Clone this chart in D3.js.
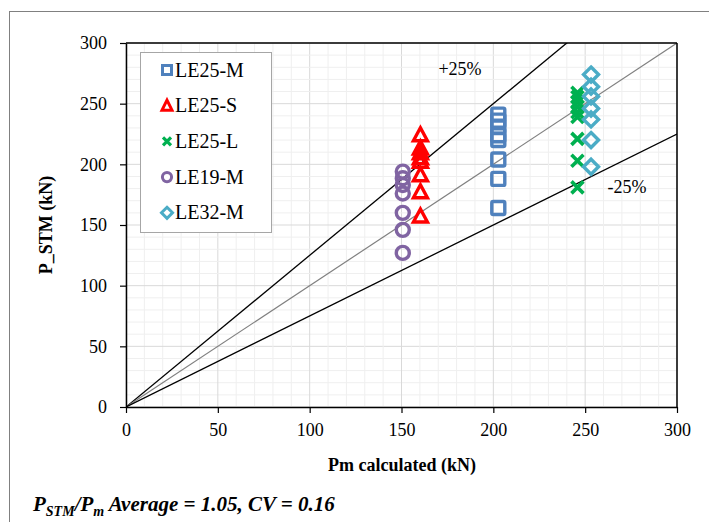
<!DOCTYPE html>
<html><head><meta charset="utf-8">
<script src="https://cdn.jsdelivr.net/npm/d3@7"></script>
<style>body{margin:0;background:#fff}svg{display:block}</style>
</head><body>
<svg id="c" width="709" height="522"></svg>
<script>
const seriesNames = ["LE25-M","LE25-S","LE25-L","LE19-M","LE32-M"];
const seriesColors = ["#4F81BD","#FF0000","#00B050","#8064A2","#4BACC6"];
const seriesShapes = ["square","triangle","cross","circle","diamond"];
const xLE25M = [202.7,202.7,202.7,202.7,202.7,202.7,202.7,202.7];
const yLE25M = [241,236,231,224,220,204,188,164];
const xLE25S = [160.3,160.3,160.3,160.3,160.3,160.3,160.3,160.3];
const yLE25S = [224,213,209,205,202,191,177,157];
const xLE25L = [245.8,245.8,245.8,245.8,245.8,245.8,245.8,245.8,245.8];
const yLE25L = [259,255.5,251.5,247.5,243,239,221,203,181];
const xLE19M = [150.7,150.7,150.7,150.7,150.7,150.7,150.7];
const yLE19M = [194,188.5,183,176,160,146,127];
const xLE32M = [253.2,253.2,253.2,253.2,253.2,253.2,253.2];
const yLE32M = [274,264,256,246,237,220,198];
const xTicks = [0,50,100,150,200,250,300];
const yTicks = [0,50,100,150,200,250,300];
const refLines = [{k:1.25,color:"#000",w:1.3},{k:1.0,color:"#808080",w:1.2},{k:0.75,color:"#000",w:1.3}];

const FONT="Liberation Serif";
const xs=[xLE25M,xLE25S,xLE25L,xLE19M,xLE32M], ys=[yLE25M,yLE25S,yLE25L,yLE19M,yLE32M];
const svg=d3.select("#c");
const L=126,R=677,T=43,B=407;
const x=d3.scaleLinear().domain([0,300]).range([L,R]);
const y=d3.scaleLinear().domain([0,300]).range([B,T]);

svg.append("rect").attr("x",9.5).attr("y",11.5).attr("width",720).attr("height",530).attr("fill","none").attr("stroke","#808080").attr("stroke-width",1);

const minor=d3.range(0,301,10);
const g=svg.append("g");
minor.forEach(v=>{
  const major=v%50===0;
  g.append("line").attr("x1",x(v)).attr("x2",x(v)).attr("y1",T).attr("y2",B).attr("stroke",major?"#d9d9d9":"#efefef").attr("stroke-width",1);
  g.append("line").attr("y1",y(v)).attr("y2",y(v)).attr("x1",L).attr("x2",R).attr("stroke",major?"#d9d9d9":"#efefef").attr("stroke-width",1);
});

svg.append("clipPath").attr("id","cp").append("rect").attr("x",L).attr("y",T).attr("width",R-L).attr("height",B-T);
const rl=svg.append("g").attr("clip-path","url(#cp)");
refLines.forEach(r=>{
  rl.append("line").attr("x1",x(0)).attr("y1",y(0)).attr("x2",x(300)).attr("y2",y(300*r.k)).attr("stroke",r.color).attr("stroke-width",r.w);
});

const xa=svg.append("g").attr("transform",`translate(0,${B})`).call(d3.axisBottom(x).tickValues(xTicks).tickSize(6).tickPadding(6).tickSizeOuter(0));
const ya=svg.append("g").attr("transform",`translate(${L},0)`).call(d3.axisLeft(y).tickValues(yTicks).tickSize(6).tickPadding(13).tickSizeOuter(0));
[xa,ya].forEach(a=>{a.attr("font-family",FONT).attr("font-size",18);a.select(".domain").attr("stroke","#000").attr("stroke-width",1.5);a.selectAll(".tick line").attr("stroke","#000").attr("stroke-width",1.2);a.selectAll("text").attr("fill","#000");});
xa.selectAll("text").attr("dy","0.95em");
svg.append("line").attr("x1",L).attr("x2",R).attr("y1",T).attr("y2",T).attr("stroke","#000").attr("stroke-width",1.5);
svg.append("line").attr("x1",R).attr("x2",R).attr("y1",T).attr("y2",B).attr("stroke","#000").attr("stroke-width",1.5);

function marker(sel,shape,color,cx,cy){
  const sw=3.4;
  if(shape==="square") sel.append("rect").attr("x",cx-6.5).attr("y",cy-6.5).attr("width",13).attr("height",13).attr("rx",1.5).attr("fill","none").attr("stroke",color).attr("stroke-width",sw);
  else if(shape==="triangle") sel.append("path").attr("d",`M${cx},${cy-7.5}L${cx+7},${cy+5.5}L${cx-7},${cy+5.5}Z`).attr("fill","none").attr("stroke",color).attr("stroke-width",sw).attr("stroke-linejoin","miter");
  else if(shape==="cross") sel.append("path").attr("d",`M${cx-6},${cy-6}L${cx+6},${cy+6}M${cx+6},${cy-6}L${cx-6},${cy+6}`).attr("stroke",color).attr("stroke-width",3.6);
  else if(shape==="circle") sel.append("circle").attr("cx",cx).attr("cy",cy).attr("r",6.5).attr("fill","none").attr("stroke",color).attr("stroke-width",sw);
  else if(shape==="diamond") sel.append("path").attr("d",`M${cx},${cy-7.5}L${cx+7.5},${cy}L${cx},${cy+7.5}L${cx-7.5},${cy}Z`).attr("fill","none").attr("stroke",color).attr("stroke-width",sw);
}
const pts=svg.append("g");
seriesNames.forEach((n,i)=>{
  xs[i].forEach((xv,j)=>marker(pts,seriesShapes[i],seriesColors[i],x(xv),y(ys[i][j])));
});

function txt(xp,yp,s,size){
  return svg.append("text").attr("x",xp).attr("y",yp).attr("font-family",FONT).attr("font-size",size).attr("fill","#000").text(s);
}
txt(460,75,"+25%",18).attr("text-anchor","middle");
txt(627,193,"-25%",18).attr("text-anchor","middle");

const lg=svg.append("g");
lg.append("rect").attr("x",140.5).attr("y",52.5).attr("width",131).attr("height",180).attr("fill","#fff").attr("stroke","#a6a6a6").attr("stroke-width",1);
seriesNames.forEach((n,i)=>{
  const cy=70+i*35.7;
  const m=lg.append("g");
  const c=seriesColors[i];
  if(seriesShapes[i]==="square") m.append("rect").attr("x",162.5).attr("y",cy-4.5).attr("width",9).attr("height",9).attr("fill","none").attr("stroke",c).attr("stroke-width",3);
  else if(seriesShapes[i]==="triangle") m.append("path").attr("d",`M167,${cy-5.5}L172,${cy+4.5}L162,${cy+4.5}Z`).attr("fill","none").attr("stroke",c).attr("stroke-width",3);
  else if(seriesShapes[i]==="cross") m.append("path").attr("d",`M163,${cy-4}L171,${cy+4}M171,${cy-4}L163,${cy+4}`).attr("stroke",c).attr("stroke-width",3.2);
  else if(seriesShapes[i]==="circle") m.append("circle").attr("cx",167).attr("cy",cy).attr("r",4.6).attr("fill","none").attr("stroke",c).attr("stroke-width",3);
  else m.append("path").attr("d",`M167,${cy-5.5}L172.5,${cy}L167,${cy+5.5}L161.5,${cy}Z`).attr("fill","none").attr("stroke",c).attr("stroke-width",3);
  lg.append("text").attr("x",175).attr("y",cy+6.5).attr("font-family",FONT).attr("font-size",20).attr("fill","#000").text(n);
});

txt(402,471,"Pm calculated (kN)",18).attr("text-anchor","middle").attr("font-weight","bold");
svg.append("text").attr("transform","translate(52,225) rotate(-90)").attr("text-anchor","middle").attr("font-family",FONT).attr("font-size",18).attr("font-weight","bold").text("P_STM (kN)");

const nt=svg.append("text").attr("x",33).attr("y",511).attr("font-family",FONT).attr("font-size",21).attr("font-weight","bold").attr("font-style","italic");
nt.append("tspan").text("P");
nt.append("tspan").attr("font-size",14).attr("dy",5).text("STM");
nt.append("tspan").attr("dy",-5).text("/P");
nt.append("tspan").attr("font-size",14).attr("dy",5).text("m");
nt.append("tspan").attr("dy",-5).text(" Average = 1.05, CV = 0.16");
</script>
</body></html>
